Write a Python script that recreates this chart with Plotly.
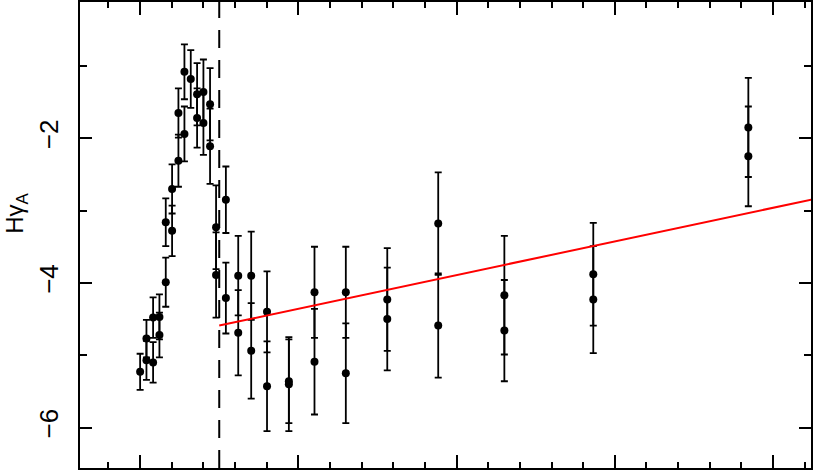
import plotly.graph_objects as go

# measured points (x in axis units, major tick every 5)
pt_x = [0.00, 0.20, 0.20, 0.41, 0.41, 0.61, 0.61, 0.81, 0.81, 1.01, 1.01,
        1.21, 1.21, 1.40, 1.40, 1.60, 1.80, 1.80, 2.00, 2.00, 2.21, 2.21,
        2.40, 2.40, 2.71, 2.71, 3.10, 3.10, 3.51, 3.51, 4.01, 4.01,
        4.70, 4.70, 5.51, 5.51, 6.50, 6.50, 7.81, 7.81, 9.42, 9.42,
        11.51, 11.51, 14.32, 14.32, 19.22, 19.22]
pt_y = [-5.23, -4.77, -5.07, -4.48, -5.10, -4.47, -4.72, -3.99, -3.16, -3.28, -2.70,
        -2.31, -1.65, -1.08, -1.94, -1.18, -1.39, -1.72, -1.36, -1.79, -1.53, -2.11,
        -3.23, -3.89, -2.85, -4.21, -3.90, -4.69, -3.90, -4.94, -4.40, -5.43,
        -5.40, -5.36, -4.13, -5.09, -4.13, -5.25, -4.23, -4.50, -3.18, -4.59,
        -4.17, -4.66, -3.88, -4.23, -1.85, -2.25]
pt_err = [0.25, 0.26, 0.27, 0.28, 0.28, 0.31, 0.31, 0.34, 0.33, 0.35, 0.34,
          0.36, 0.34, 0.38, 0.38, 0.40, 0.43, 0.41, 0.45, 0.44, 0.50, 0.52,
          0.58, 0.59, 0.46, 0.49, 0.55, 0.59, 0.61, 0.66, 0.56, 0.62,
          0.65, 0.58, 0.63, 0.73, 0.63, 0.69, 0.71, 0.71, 0.71, 0.72,
          0.82, 0.70, 0.71, 0.74, 0.685, 0.69]

# fitted line and the dashed marker
fit_x = [2.5, 21.3]
fit_y = [-4.59, -2.84]
cut_x = 2.5

x_range = [-1.9, 21.2]
y_range = [-6.56, -0.115]

fig = go.Figure()

fig.add_trace(go.Scatter(x=[cut_x, cut_x], y=y_range, mode='lines',
                         line=dict(color='black', width=2, dash='18px,12px'),
                         hoverinfo='skip'))

fig.add_trace(go.Scatter(x=pt_x, y=pt_y, mode='markers',
                         marker=dict(color='black', size=8),
                         error_y=dict(type='data', array=pt_err, color='black',
                                      thickness=1.8, width=3.5)))

fig.add_trace(go.Scatter(x=fit_x, y=fit_y, mode='lines',
                         line=dict(color='red', width=2), hoverinfo='skip'))

# y title placed by hand (sits a bit above the axis middle in the original)
fig.add_annotation(text='Hγ<sub>A</sub>', xref='paper', yref='paper',
                   x=-0.088, y=0.547, xanchor='center', yanchor='middle',
                   textangle=-90, showarrow=False,
                   font=dict(family='Liberation Sans', size=24, color='black'))

fig.update_xaxes(range=x_range, showticklabels=False, showgrid=False, zeroline=False,
                 automargin=False,
                 ticks='inside', tick0=0, dtick=5, ticklen=13, tickwidth=1.5,
                 tickcolor='black', showline=True, linecolor='black', linewidth=1.5,
                 mirror='allticks',
                 minor=dict(ticks='inside', dtick=1, ticklen=6, tickwidth=1.5,
                            tickcolor='black', showgrid=False))
fig.update_yaxes(range=y_range, showgrid=False, zeroline=False, automargin=False,
                 ticks='inside', tickvals=[-2, -4, -6], ticklen=12, tickwidth=1.5,
                 tickcolor='black', showline=True, linecolor='black', linewidth=1.5,
                 mirror='allticks', tickangle=-90, ticklabelstandoff=10,
                 tickfont=dict(family='Liberation Sans', size=26, color='black'),
                 minor=dict(ticks='inside', tickvals=[-1, -3, -5], ticklen=7,
                            tickwidth=1.5, tickcolor='black', showgrid=False))

fig.update_layout(width=817, height=472, showlegend=False,
                  plot_bgcolor='white', paper_bgcolor='white',
                  margin=dict(l=80, r=6, t=2, b=4))

# drop the browser's default 8px body margin so the figure sits at the corner
fig.write_html("out.html", config={'displayModeBar': False},
               post_script="document.body.style.margin='0';")
